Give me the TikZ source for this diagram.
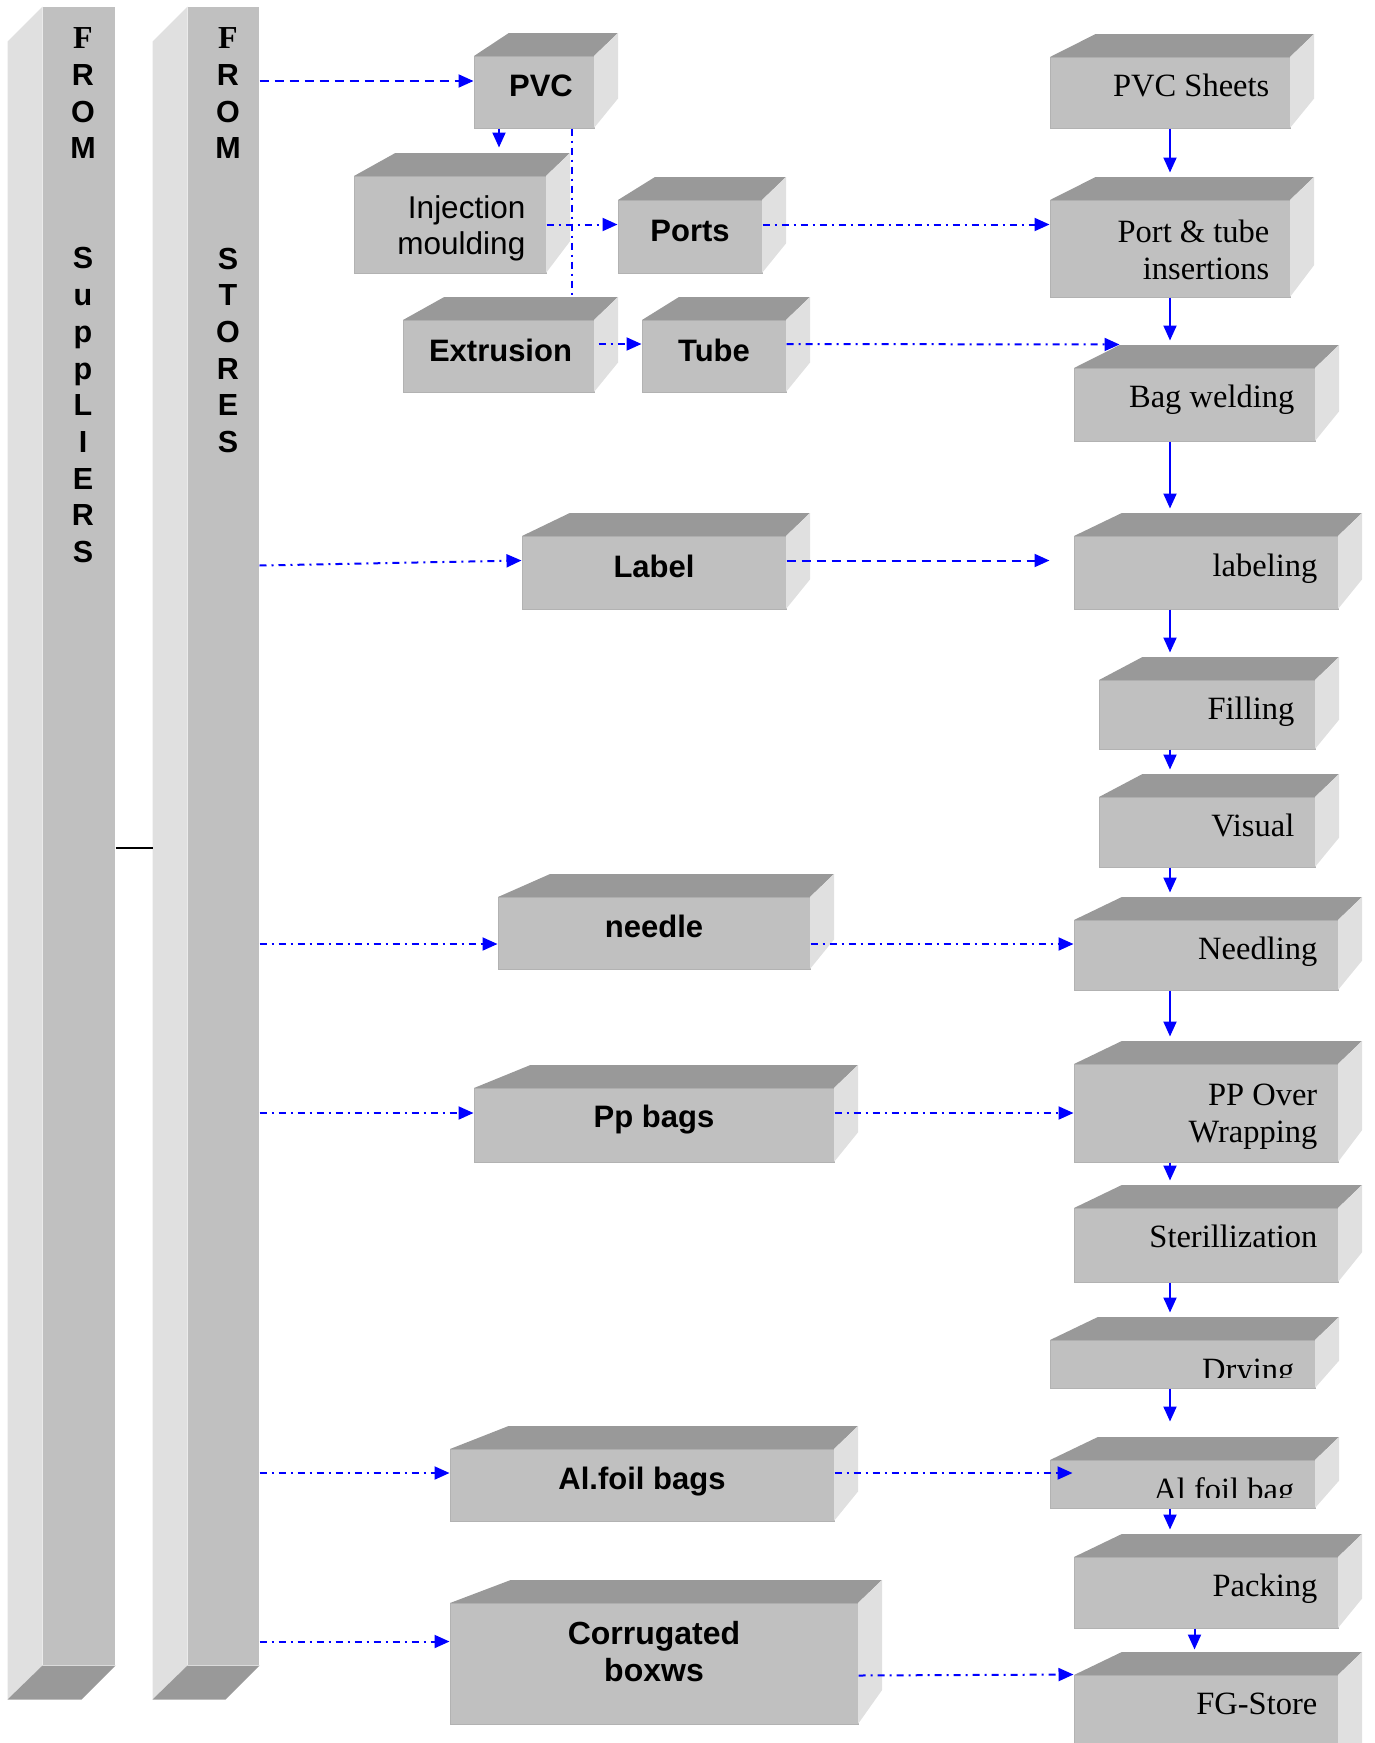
\documentclass[tikz,border=0pt]{standalone}
\usepackage{fontspec}
\setmainfont{Liberation Serif}
\setsansfont{Liberation Sans}
\usetikzlibrary{calc,arrows.meta}

\definecolor{frontgray}{HTML}{C0C0C0}
\definecolor{topgray}{HTML}{999999}
\definecolor{sidegray}{HTML}{E0E0E0}
\definecolor{edgegray}{HTML}{B2B2B2}
\definecolor{flowblue}{HTML}{0000FF}

\tikzset{
  front/.style={fill=frontgray, draw=edgegray, line width=1pt, inner sep=0pt},
  flow/.style={flowblue, line width=2pt, -{Triangle[length=15pt,width=13pt]}},
  dashflow/.style={flow, dash pattern=on 9pt off 6pt},
  dotline/.style={flowblue, line width=2pt, dash pattern=on 7pt off 5pt on 2pt off 5pt},
  dotflow/.style={dotline, -{Triangle[length=15pt,width=13pt]}},
  rtxt/.style={font=\fontsize{32.5}{37}\selectfont, anchor=base east, align=right, inner sep=0pt},
  mtxt/.style={font=\sffamily\bfseries\fontsize{31}{37}\selectfont, anchor=base, align=center, inner sep=0pt},
  coltxt/.style={font=\sffamily\bfseries\fontsize{30.5}{36.7}\selectfont, anchor=base, align=center, inner sep=0pt}
}

% 3D block: name, x1, y1, x2, y2 (front face)
\newcommand{\cube}[5]{%
  \node[front, minimum width={#4-#2}, minimum height={#5-#3}] (#1) at ({(#2+#4)/2},{(#3+#5)/2}) {};
  \fill[topgray] (#2,#3) -- ({#2+24+0.09*(#4-#2)},{#3-23}) -- ({#4+24},{#3-23}) -- (#4,#3) -- cycle;
  \fill[sidegray] (#4,#3) -- ({#4+24},{#3-23}) -- ({#4+24},{#5-23-0.09*(#5-#3)}) -- (#4,#5) -- cycle;
}

\begin{document}
\begin{tikzpicture}[x=1pt,y=-1pt]
 \useasboundingbox (0,0) rectangle (1375,1743);
 \clip (0,0) rectangle (1375,1743);

 % suppliers and stores
 \node[front, draw=none, minimum width=72, minimum height=1658] (sup) at (79,836) {};
 \node[front, draw=none, minimum width=71, minimum height=1658] (sto) at (223.5,836) {};
 \foreach \c in {sup,sto}{
   \fill[sidegray] (\c.north west) -- ++(-35,35) -- ([xshift=-35pt,yshift=-34pt]\c.south west) -- (\c.south west) -- cycle;
   \fill[topgray] (\c.south west) -- (\c.south east) -- ++(-34,34) -- ([xshift=-35pt,yshift=-34pt]\c.south west) -- cycle;
 }
 \node[coltxt] (suptxt) at ([xshift=4pt,yshift=-556pt]sup.north) {{\rmfamily\fontsize{32}{36.7}\selectfont F}\\R\\O\\M\\[73.4pt]S\\u\\p\\p\\L\\I\\E\\R\\S};
 \node[coltxt] (stotxt) at ([xshift=4.5pt,yshift=-446pt]sto.north) {{\rmfamily\fontsize{32}{36.7}\selectfont F}\\R\\O\\M\\[73.4pt]S\\T\\O\\R\\E\\S};
 \draw[black, line width=1.5pt] ([yshift=-12pt]sup.east) -- ([xshift=-35pt,yshift=-12pt]sto.west);

 % raw materials
 \cube{pvc}{474}{56}{594}{128}
 \cube{inj}{354}{176}{546}{273}
 \cube{ports}{618}{200}{762}{273}
 \cube{extr}{403}{320}{594}{392}
 \cube{tube}{642}{320}{786}{392}
 \cube{lbl}{522}{536}{786}{609}
 \cube{needle}{498}{897}{810}{969}
 \cube{ppbags}{474}{1088}{834}{1162}
 \cube{alfoil}{450}{1449}{834}{1521}
 \cube{corr}{450}{1603}{858}{1724}

 % process steps
 \cube{sheets}{1050}{57}{1290}{128}
 \cube{ptins}{1050}{200}{1290}{297}
 \cube{bagw}{1074}{368}{1315}{441}
 \cube{labeling}{1074}{536}{1338}{609}
 \cube{filling}{1099}{680}{1315}{749}
 \cube{visual}{1099}{797}{1315}{867}
 \cube{needling}{1074}{920}{1338}{990}
 \cube{ppover}{1074}{1064}{1338}{1162}
 \cube{steril}{1074}{1208}{1338}{1282}
 \cube{drying}{1050}{1340}{1315}{1388}
 \cube{alfbag}{1050}{1460}{1315}{1508}
 \cube{packing}{1074}{1557}{1338}{1628}
 \cube{fgstore}{1074}{1675}{1338}{1780}

 \node[mtxt] (pvc-t) at ([xshift=7pt,yshift=-41pt]pvc.north) {PVC};
 \node[mtxt, font=\sffamily\fontsize{31.5}{36}\selectfont, anchor=base east, align=right] (inj-t) at ([xshift=-21pt,yshift=-79pt]inj.north east) {Injection\\moulding};
 \node[mtxt] (ports-t) at ([yshift=-42pt]ports.north) {Ports};
 \node[mtxt] (extr-t) at ([xshift=2pt,yshift=-42pt]extr.north) {Extrusion};
 \node[mtxt] (tube-t) at ([yshift=-42pt]tube.north) {Tube};
 \node[mtxt] (lbl-t) at ([yshift=-42pt]lbl.north) {Label};
 \node[mtxt] (needle-t) at ([yshift=-41pt]needle.north) {needle};
 \node[mtxt] (ppbags-t) at ([yshift=-40pt]ppbags.north) {Pp bags};
 \node[mtxt] (alfoil-t) at ([yshift=-41pt]alfoil.north) {Al.foil bags};
 \node[mtxt, font=\sffamily\bfseries\fontsize{32}{37}\selectfont] (corr-t) at ([yshift=-79pt]corr.north) {Corrugated\\boxws};

 \foreach \b/\t/\d in {sheets/PVC Sheets/40, ptins/{Port \& tube\\insertions}/80, bagw/Bag welding/40,
   labeling/labeling/41, filling/Filling/40, visual/Visual/40, needling/Needling/40,
   ppover/{PP Over\\Wrapping}/79, steril/Sterillization/40, packing/Packing/40, fgstore/FG-Store/40}
   \node[rtxt] (\b-t) at ([xshift=-21pt,yshift=-\d pt]\b.north east) {\t};
 \foreach \b/\t in {drying/Drying, alfbag/Al foil bag}{
   \begin{scope}
     \clip (\b.north west) rectangle ([yshift=11pt]\b.south east);
     \node[rtxt] (\b-t) at ([xshift=-21pt,yshift=-41pt]\b.north east) {\t};
   \end{scope}
 }

 % connectors
 \draw[dashflow] ([yshift=11pt]pvc.west -| sto.east) -- ([yshift=11pt]pvc.west);
 \draw[flow, shorten >=28pt] ([xshift=-35pt]pvc.south) -- ([xshift=-35pt]pvc.south |- inj.north);
 \draw[dotline, shorten >=23pt] ([xshift=-23pt]pvc.south east) -- ([xshift=-23pt]pvc.south east |- extr.north);
 \draw[dotflow] (inj.east) -- (inj.east -| ports.west);
 \draw[dotflow] (inj.east -| ports.east) -- (inj.east -| ptins.west);
 \draw[dotflow] ([xshift=4pt,yshift=12pt]extr.east) -- ([yshift=12pt]extr.east -| tube.west);
 \draw[dotflow] ([yshift=12pt]tube.east) -- ([xshift=46pt,yshift=23pt]bagw.north west);
 \draw[dotflow] ([yshift=7pt]lbl.west -| sto.east) -- ([yshift=12pt]lbl.west);
 \draw[dashflow, shorten >=24pt] ([yshift=12pt]lbl.east) -- ([yshift=12pt]lbl.east -| labeling.west);
 \draw[dotflow] ([yshift=-11pt]needle.west -| sto.east) -- ([yshift=-11pt]needle.west);
 \draw[dotflow] ([yshift=-11pt]needle.east) -- ([yshift=-11pt]needle.east -| needling.west);
 \draw[dotflow] ([yshift=12pt]ppbags.west -| sto.east) -- ([yshift=12pt]ppbags.west);
 \draw[dotflow] ([yshift=12pt]ppbags.east) -- ([yshift=12pt]ppbags.east -| ppover.west);
 \draw[dotflow] ([yshift=12pt]alfoil.west -| sto.east) -- ([yshift=12pt]alfoil.west);
 \draw[dotflow] ([yshift=12pt]alfoil.east) -- ([xshift=23pt,yshift=12pt]alfoil.east -| alfbag.west);
 \draw[dotflow] ([yshift=22pt]corr.west -| sto.east) -- ([yshift=22pt]corr.west);
 \draw[dotflow] ([yshift=-12pt]corr.east) -- (fgstore.north west);

 \foreach \a/\b in {sheets/ptins, ptins/bagw, bagw/labeling, labeling/filling, filling/visual,
   visual/needling, needling/ppover, ppover/steril, steril/drying, alfbag/packing}
   \draw[flow, shorten >=27pt] (\a.south -| sheets.south) -- (\b.north -| sheets.south);
 \draw[flow, shorten >=38pt] (drying.south -| sheets.south) -- (alfbag.north -| sheets.south);
 \draw[flow, shorten >=25pt] (packing.south -| bagw.south) -- (fgstore.north -| bagw.south);
\end{tikzpicture}
\end{document}
